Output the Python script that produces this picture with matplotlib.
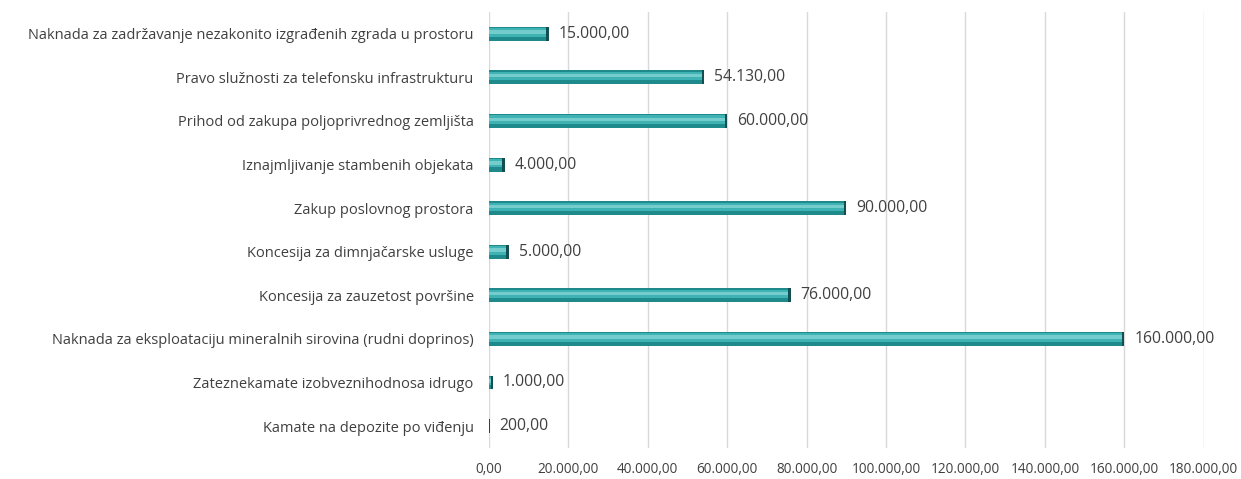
import matplotlib
matplotlib.use('Agg')
import matplotlib.pyplot as plt
import numpy as np

categories = [
    'Kamate na depozite po viđenju',
    'Zateznekamate izobveznihodnosa idrugo',
    'Naknada za eksploataciju mineralnih sirovina (rudni doprinos)',
    'Koncesija za zauzetost površine',
    'Koncesija za dimnjačarske usluge',
    'Zakup poslovnog prostora',
    'Iznajmljivanje stambenih objekata',
    'Prihod od zakupa poljoprivrednog zemljišta',
    'Pravo služnosti za telefonsku infrastrukturu',
    'Naknada za zadržavanje nezakonito izgrađenih zgrada u prostoru',
]
values = [200, 1000, 160000, 76000, 5000, 90000, 4000, 60000, 54130, 15000]
ticks = [0, 20000, 40000, 60000, 80000, 100000, 120000, 140000, 160000, 180000]

def fmt(v):
    s = f'{v:,.2f}'
    return s.replace(',', 'X').replace('.', ',').replace('X', '.')

plt.rcParams['font.family'] = ['Open Sans', 'DejaVu Sans']

fig = plt.figure(figsize=(12.41, 4.79), dpi=100)
ax = fig.add_axes([0.394, 0.065, 0.576, 0.91])

y = np.arange(len(categories))
h = 0.32
# main bar (darker lower part)
ax.barh(y, values, height=h, color='#1f8a8c', zorder=3)
# lighter upper part for the 3D look
ax.barh(y + h * 0.1, values, height=h * 0.6, color='#3fb3b4', zorder=4)
ax.barh(y + h * 0.12, values, height=h * 0.25, color='#74cccc', zorder=4)
# dark end cap
cap = [min(v, 600) for v in values]
ax.barh(y, cap, left=[v - c for v, c in zip(values, cap)],
        height=h, color='#124f51', zorder=5)

for yi, v in zip(y, values):
    ax.text(v + 2500, yi, fmt(v), va='center', ha='left', fontsize=11.3, color='#404040')

ax.set_xlim(0, 180000)
ax.set_ylim(-0.5, len(categories) - 0.5)
ax.set_xticks(ticks)
ax.set_xticklabels([fmt(t) for t in ticks], fontsize=9.8, color='#404040')
ax.set_yticks(y)
ax.set_yticklabels(categories, fontsize=10.5, color='#404040')
ax.tick_params(axis='both', length=0)
ax.tick_params(axis='x', pad=10)
ax.tick_params(axis='y', pad=11)
ax.grid(axis='x', color='#d9d9d9', linewidth=1, zorder=0)
for s in ax.spines.values():
    s.set_visible(False)

fig.savefig('out.png', dpi=100)
